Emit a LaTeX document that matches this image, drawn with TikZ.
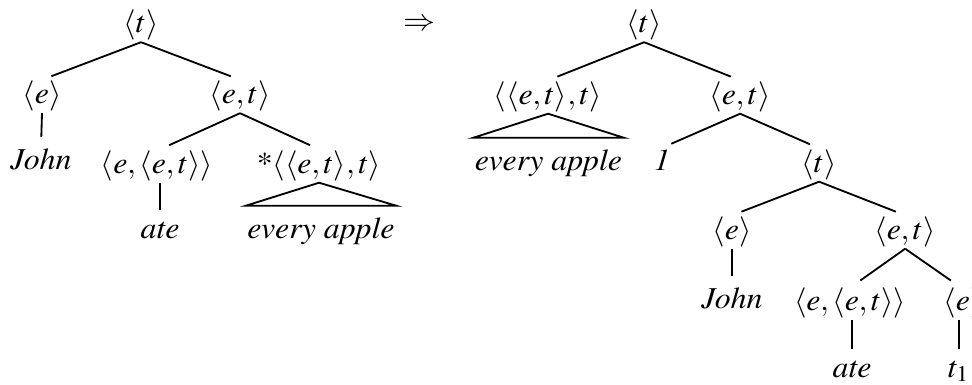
\documentclass[tikz,border=0pt]{standalone}
\usepackage[T1]{fontenc}
\usepackage{mathptmx}
\tikzset{
    cat/.style={inner sep=0.3pt, transform shape, font=\fontsize{9.1}{10}\selectfont},
    word/.style={inner sep=0.3pt, anchor=base, transform shape, font=\fontsize{9.1}{10}\selectfont\itshape},
    branch/.style={line width=0.55pt, shorten >=3pt},
    roof/.style={line width=0.55pt}
}

\begin{document}
\begin{tikzpicture}[x=0.2857pt, xscale=1.05, y=-0.3pt]
    \useasboundingbox (0,0) rectangle (972,384);
    % before the move
    \node (t0) [cat] at (141,25.5) {$\langle t\rangle$};
    \node (e0) [cat] at (42,96.5) {$\langle e\rangle$};
    \node (et0) [cat] at (240,96.5) {$\langle e,t\rangle$};
    \node (john0) [word] at (41,169) {John};
    \node (eet0) [cat] at (157,166) {$\langle e,\langle e,t\rangle\rangle$};
    \node (q0) [cat] at (319,166) {*$\langle\langle e,t\rangle,t\rangle$};
    \node (ate0) [word] at (160,238) {ate};
    \node (ea0) [word] at (321,238) {every apple};

    \draw [branch] (t0.south) -- (e0.north);
    \draw [branch] (t0.south) -- (et0.north);
    \draw [branch] (e0.south) -- (john0.north);
    \draw [branch] (et0.south) -- (eet0.north -| ate0);
    \draw [branch] (et0.south) -- (q0.north);
    \draw [branch] (eet0.south -| ate0) -- (ate0.north);
    \draw [roof] (q0.south) -- ([yshift=3pt]ea0.north west) -- ([yshift=3pt]ea0.north east) -- cycle;

    \node (impl) [cat] at (419,25) {$\Rightarrow$};

    % after the move
    \node (t1) [cat] at (644,25.5) {$\langle t\rangle$};
    \node (q1) [cat] at (548,97) {$\langle\langle e,t\rangle,t\rangle$};
    \node (et1) [cat] at (740,97) {$\langle e,t\rangle$};
    \node (ea1) [word] at (548.5,170) {every apple};
    \node (one1) [word] at (662,170) {1};
    \node (t2) [cat] at (819,165) {$\langle t\rangle$};
    \node (e1) [cat] at (732,232) {$\langle e\rangle$};
    \node (et2) [cat] at (905,232) {$\langle e,t\rangle$};
    \node (john1) [word] at (732,308) {John};
    \node (eet1) [cat] at (850,303) {$\langle e,\langle e,t\rangle\rangle$};
    \node (e2) [cat] at (963,303) {$\langle e\rangle$};
    \node (ate1) [word] at (852,377) {ate};
    \node (tr1) [word] at (959,377) {$t_1$};

    \draw [branch] (t1.south) -- (q1.north);
    \draw [branch] (t1.south) -- (et1.north);
    \draw [roof] (q1.south) -- ([yshift=3pt]ea1.north west) -- ([yshift=3pt]ea1.north east) -- cycle;
    \draw [branch] (et1.south) -- (one1.north);
    \draw [branch] (et1.south) -- (t2.north);
    \draw [branch] (t2.south) -- (e1.north);
    \draw [branch] (t2.south) -- (et2.north);
    \draw [branch] (e1.south) -- (john1.north);
    \draw [branch] (et2.south) -- (eet1.north -| ate1);
    \draw [branch] (et2.south) -- (e2.north -| tr1);
    \draw [branch] (eet1.south -| ate1) -- (ate1.north);
    \draw [branch] (e2.south -| tr1) -- (tr1.north);
\end{tikzpicture}
\end{document}
